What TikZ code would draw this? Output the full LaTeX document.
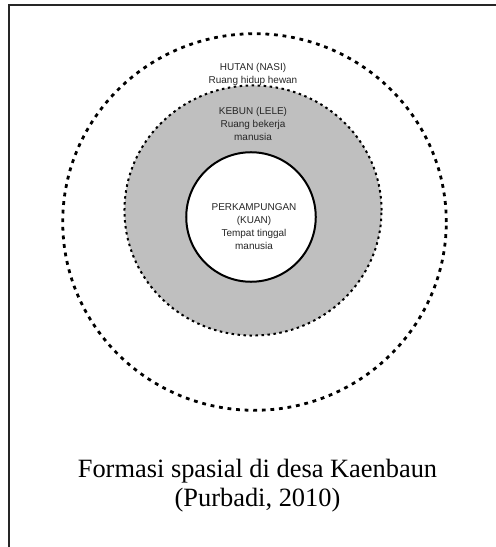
\documentclass[tikz,border=0pt]{standalone}
\usepackage{fontspec}
\setmainfont{Liberation Serif}
\setsansfont{Liberation Sans}
\usepackage{tikz}
\usetikzlibrary{shapes.geometric}

\tikzset{
  zone/.style={ellipse, inner sep=0pt, outer sep=0pt},
  zonelabel/.style={font=\sffamily\fontsize{10}{13}\selectfont, align=center, text=black!85},
  captionline/.style={anchor=base, font=\fontsize{26.5}{29.5}\selectfont},
}

\begin{document}
\begin{tikzpicture}[x=1bp, y=-1bp]
    % Define the centre and radii of the zones
    \def\cx{253}
    \def\rhutanx{192.5}
    \def\rhutany{189}
    \def\rkebunx{129}
    \def\rkebuny{125.5}
    \def\rkuan{65}

    \useasboundingbox (0,0) rectangle (496,547);

    % Draw the frame
    \coordinate (frameTR) at (496,5);
    \coordinate (frameTL) at (9,5);
    \coordinate (frameBL) at (9,547);
    \draw[line width=2.2bp, black!85] (frameTR) -- (frameTL) -- (frameBL);

    % Draw the zones, outer to inner
    \node[zone, minimum width=2*\rhutanx, minimum height=2*\rhutany, draw, line width=2.8bp,
          dash pattern=on 3.8bp off 4.8bp]
      (hutan) at (\cx+1.5,222) {};
    \node[zone, minimum width=2*\rkebunx, minimum height=2*\rkebuny, fill=black!25, draw,
          line width=2bp, dash pattern=on 2.5bp off 3.5bp]
      (kebun) at (\cx,210.5) {};
    \node[zone, minimum size=2*\rkuan, fill=white, draw, line width=2bp]
      (kuan) at (\cx-2,217) {};

    % Add the labels
    \node[zonelabel] (hutanlabel) at (\cx,74.5) {HUTAN (NASI)\\Ruang hidup hewan};
    \node[zonelabel] (kebunlabel) at (\cx,124) {KEBUN (LELE)\\Ruang bekerja\\manusia};
    \node[zonelabel] (kuanlabel) at (\cx+1,226.5) {PERKAMPUNGAN\\(KUAN)\\Tempat tinggal\\manusia};

    % Caption
    \node[captionline] (caption) at (257.5,477) {Formasi spasial di desa Kaenbaun};
    \node[captionline] (captionsrc) at (257.5,506.5) {(Purbadi, 2010)};
\end{tikzpicture}
\end{document}
